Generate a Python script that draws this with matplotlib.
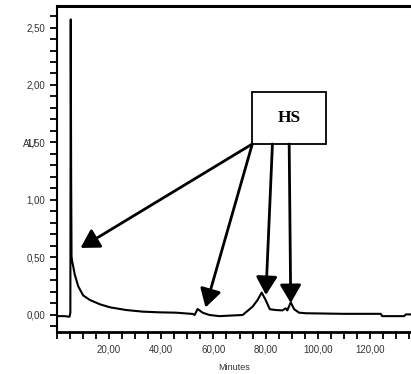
import numpy as np
import matplotlib.pyplot as plt
from matplotlib.patches import Rectangle
from matplotlib.ticker import MultipleLocator, FuncFormatter

# Chromatogramm-Daten
minutes = [0, 3, 5.0, 5.3, 5.45, 5.6, 5.75, 5.9, 7.0, 8.3, 10.2, 12.8, 16.6, 20.4,
           26.7, 33.0, 39.4, 45.8, 52.1, 52.8, 54.0, 55.9, 58.5, 62.3, 71.2,
           75.0, 76.9, 78.5, 80.0, 81.6, 83.9, 86.4, 87.7, 88.3, 89.6, 90.9,
           92.8, 95.4, 110.0, 124.0, 124.6, 133.0, 133.6, 137.0]
au = [-0.01, -0.01, -0.015, 0.02, 2.57, 1.2, 0.51, 0.48, 0.35, 0.25, 0.17, 0.13,
      0.093, 0.067, 0.043, 0.029, 0.023, 0.02, 0.009, 0.0, 0.052, 0.02, 0.0,
      -0.01, 0.0, 0.072, 0.13, 0.195, 0.13, 0.05, 0.043, 0.04, 0.058, 0.04,
      0.11, 0.05, 0.02, 0.015, 0.01, 0.01, -0.01, -0.01, 0.005, 0.005]

# Pfeile: (Start, Ziel) in Datenkoordinaten
arrow_starts = [(74.9, 1.487), (74.9, 1.487), (82.6, 1.487), (89.0, 1.487)]
arrow_tips = [(9.2, 0.583), (57.0, 0.065), (80.1, 0.174), (89.6, 0.104)]
box_x = (74.9, 102.9)
box_y = (1.487, 1.94)

plt.rcParams['font.family'] = ['Liberation Sans', 'DejaVu Sans']

fig = plt.figure(figsize=(4.11, 3.74), dpi=100)
ax = fig.add_axes([56.5 / 411, 42 / 374, 1 - 56.5 / 411, 326 / 374])

ax.plot(minutes, au, color="black", linewidth=1.5)

ax.set_xlim(0, 135.6)
ax.set_ylim(-0.148, 2.687)

ax.xaxis.set_major_locator(MultipleLocator(20))
ax.xaxis.set_minor_locator(MultipleLocator(5))
ax.yaxis.set_major_locator(MultipleLocator(0.5))
ax.yaxis.set_minor_locator(MultipleLocator(0.1))
fmt = FuncFormatter(lambda v, p: ("%.2f" % v).replace(".", ","))
ax.xaxis.set_major_formatter(fmt)
ax.yaxis.set_major_formatter(fmt)
ax.set_xticks([20, 40, 60, 80, 100, 120])

ax.tick_params(which="both", direction="out", width=1.3, colors="black",
               labelsize=7, labelcolor="#333333")
ax.tick_params(which="major", length=5)
ax.tick_params(axis="x", which="major", pad=4)
ax.tick_params(axis="y", which="major", pad=3)
ax.tick_params(which="minor", length=5)

ax.spines["right"].set_visible(False)
ax.spines["top"].set_linewidth(2.2)
ax.spines["bottom"].set_linewidth(2.0)
ax.spines["left"].set_linewidth(1.5)

ax.set_xlabel("Minutes", fontsize=6.5, color="#333333", labelpad=6)
fig.text(30 / 411, 1 - 144 / 374, "AU", fontsize=7, color="#333333",
         ha="center", va="center")

# HS-Kasten
ax.add_patch(Rectangle((box_x[0], box_y[0]), box_x[1] - box_x[0], box_y[1] - box_y[0],
                       facecolor="white", edgecolor="black", linewidth=1.3, zorder=3))
ax.text(sum(box_x) / 2, sum(box_y) / 2, "HS", fontsize=12.5, fontweight="bold",
        family="Liberation Serif", ha="center", va="center", zorder=4)

for s, t in zip(arrow_starts, arrow_tips):
    ax.annotate("", xy=t, xytext=s,
                arrowprops=dict(arrowstyle="-|>,head_length=0.65,head_width=0.38",
                                mutation_scale=17, color="black", lw=2,
                                shrinkA=0, shrinkB=0))

plt.savefig("out.png", dpi=100)
